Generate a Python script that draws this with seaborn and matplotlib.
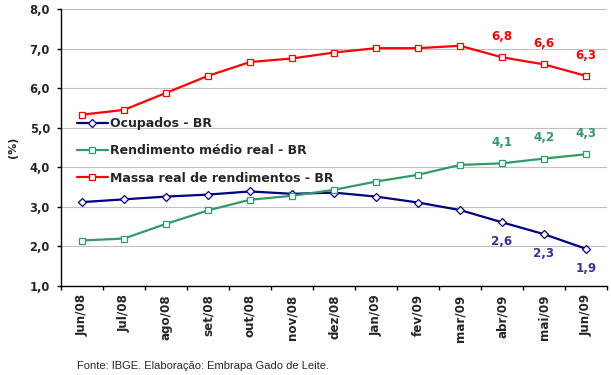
import numpy as np
import pandas as pd
import matplotlib
matplotlib.use('Agg')
import matplotlib.pyplot as plt
import seaborn as sns

# dados (%)
meses = ['Jun/08', 'Jul/08', 'ago/08', 'set/08', 'out/08', 'nov/08', 'dez/08',
         'Jan/09', 'fev/09', 'mar/09', 'abr/09', 'mai/09', 'Jun/09']
ocupados = [3.12, 3.19, 3.26, 3.31, 3.39, 3.33, 3.36, 3.26, 3.11, 2.92, 2.61, 2.31, 1.94]
rendimento = [2.15, 2.20, 2.57, 2.91, 3.18, 3.28, 3.43, 3.64, 3.81, 4.06, 4.10, 4.22, 4.33]
massa = [5.33, 5.45, 5.88, 6.31, 6.66, 6.75, 6.90, 7.01, 7.01, 7.07, 6.78, 6.60, 6.31]
yticks = [1.0, 2.0, 3.0, 4.0, 5.0, 6.0, 7.0, 8.0]

sns.set_style('white')
plt.rcParams['font.family'] = ['DejaVu Sans']

df = pd.DataFrame({'pos': np.arange(len(meses)), 'mes': meses,
                   'Ocupados - BR': ocupados,
                   'Rendimento médio real - BR': rendimento,
                   'Massa real de rendimentos - BR': massa})

fig = plt.figure(figsize=(6.11, 3.75), dpi=100)
ax = fig.add_axes([0.0998, 0.2373, 0.8937, 0.7387])

series = [('Ocupados - BR', '#000080', 'D', 4.2, '#333399', -14),
          ('Rendimento médio real - BR', '#339966', 's', 5.0, '#339966', 15),
          ('Massa real de rendimentos - BR', '#FF0000', 's', 5.0, '#FF0000', 15)]

for nome, cor, mk, ms, cor_lab, dy in series:
    sns.lineplot(data=df, x='pos', y=nome, ax=ax, color=cor, lw=1.6,
                 marker=mk, markersize=ms, markerfacecolor='white',
                 markeredgecolor=cor, markeredgewidth=0.9, label=nome)
    # rótulos dos 3 últimos meses
    for i in range(len(meses) - 3, len(meses)):
        v = df[nome].iloc[i]
        ax.annotate(f'{v:.1f}'.replace('.', ','), (i, v), xytext=(0, dy),
                    textcoords='offset points', ha='center', va='center',
                    color=cor_lab, fontsize=8.6, fontweight='bold')

ax.set_xlim(-0.5, len(meses) - 0.5)
ax.set_ylim(1.0, 8.0)
ax.set_yticks(yticks)
ax.set_yticklabels([f'{t:.1f}'.replace('.', ',') for t in yticks],
                   fontsize=8.3, fontweight='bold')
ax.set_xticks(np.arange(len(meses)))
ax.set_xticklabels(meses, rotation=90, fontsize=8.6, fontweight='bold')
ax.set_xticks(np.arange(len(meses) + 1) - 0.5, minor=True)
ax.tick_params(axis='x', which='major', length=0, pad=6)
ax.tick_params(axis='x', which='minor', length=3, width=1, color='black', direction='out', bottom=True)
ax.tick_params(axis='y', length=3, width=1, color='black', direction='out', left=True, pad=5)

ax.grid(axis='y', color='#C0C0C0', lw=0.8)
ax.set_axisbelow(True)
for s in ['top', 'right']:
    ax.spines[s].set_visible(False)
for s in ['left', 'bottom']:
    ax.spines[s].set_color('black')
    ax.spines[s].set_linewidth(1.0)

ax.set_xlabel('')
ax.set_ylabel('(%)', fontsize=8, fontweight='bold', labelpad=8)

leg = ax.legend(loc='upper left', bbox_to_anchor=(77 / 611, 1 - 117 / 375),
                bbox_transform=fig.transFigure, frameon=False, borderpad=0,
                borderaxespad=0, handlelength=2.45, handletextpad=0.2,
                labelspacing=1.15, prop={'size': 9, 'weight': 'bold'})

fig.text(77 / 611, 1 - 366 / 375, 'Fonte: IBGE. Elaboração: Embrapa Gado de Leite.',
         fontsize=8, family='Liberation Sans', va='center', ha='left')

fig.savefig('out.png', dpi=100)
